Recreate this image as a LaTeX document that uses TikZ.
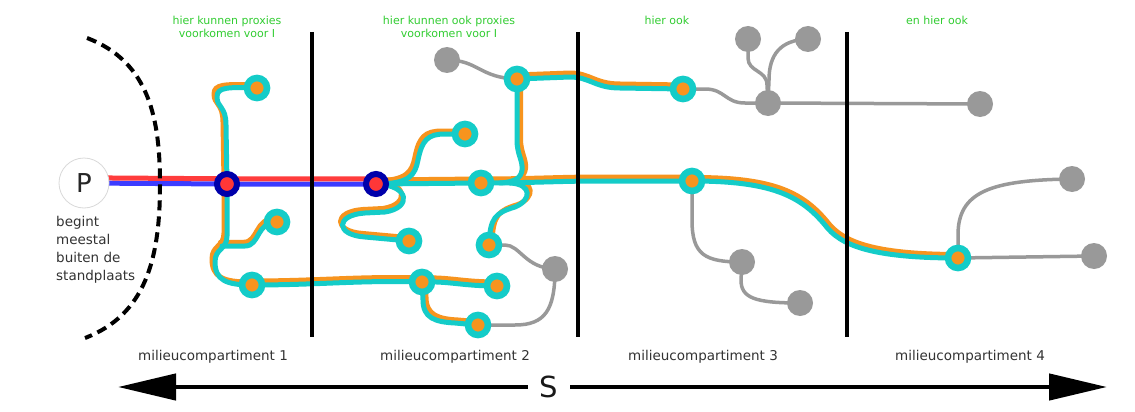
\documentclass[tikz,border=0pt]{standalone}
\usepackage{fontspec}
\setmainfont{DejaVu Sans}
\usetikzlibrary{arrows.meta}
\pgfdeclarelayer{paper}
\pgfdeclarelayer{background}
\pgfsetlayers{paper,background,main}

\definecolor{trailteal}{RGB}{20,204,200}
\definecolor{trailorange}{RGB}{247,148,30}
\definecolor{navyring}{RGB}{0,0,170}
\definecolor{corered}{RGB}{255,55,55}
\definecolor{redline}{RGB}{255,60,60}
\definecolor{blueline}{RGB}{60,60,255}
\definecolor{graynode}{RGB}{153,153,153}
\definecolor{notegreen}{RGB}{50,205,50}
\definecolor{labelgray}{RGB}{51,51,51}

\tikzset{
  proxy/.style={circle, draw=trailteal, line width=6.6pt, fill=trailorange, minimum size=20pt, inner sep=0pt},
  source/.style={circle, draw=navyring, line width=6pt, fill=corered, minimum size=20pt, inner sep=0pt},
  endpoint/.style={circle, fill=graynode, minimum size=26pt, inner sep=0pt},
  trailbase/.style={line width=5pt, line cap=round, line join=round},
  ortrail/.style 2 args={trailbase, draw=trailorange, transform canvas={shift={(#1,#2)}}},
  tetrail/.style 2 args={trailbase, draw=trailteal},
  grayline/.style={line width=3.5pt, draw=graynode, line cap=round},
  divider/.style={line width=3.5pt, black},
  note/.style={text=notegreen, font=\fontsize{11}{13}\selectfont, align=center, anchor=north, inner sep=0pt},
  complabel/.style={text=labelgray, font=\fontsize{13.5}{18}\selectfont, anchor=base, inner sep=0pt},
  bigarrow/.style={line width=4.5pt, -{Triangle[length=58pt,width=26pt]}},
}

% all proxy trails; #1 selects the orange underlay or the teal top line
\newcommand\drawtrails[1]{%
  % compartment 1
  \draw[#1={-3}{-3}] (N1.center) -- (226,125) .. controls (226,106) and (217,108) .. (217,97)
        .. controls (217,87) and (228,87) .. (A1.center);
  \draw[#1={-3}{-3}] (N1.center) -- (227,236) .. controls (227,250) and (215,248) .. (215,262)
        .. controls (215,280) and (226,285) .. (A3.center);
  \draw[#1={-1.5}{-3.7}] (j1) -- (245,246) .. controls (260,246) and (256,222) .. (A2.center);
  \draw[#1={0}{-4}] (A3.center) .. controls (320,285) and (360,280) .. (B5.center);
  % compartment 2
  \draw[#1={0}{-4}] (B5.center) .. controls (450,281) and (462,286) .. (B6.center);
  \draw[#1={3}{-3}] (B5.center) -- (423,300) .. controls (423,318) and (435,322) .. (455,323) -- (B7.center);
  \draw[#1={0}{-4}] (N2.center) -- (B2.center);
  \draw[#1={0}{-4}] (B2.center) .. controls (530,183) and (560,181) .. (600,181) -- (C2.center);
  \draw[#1={2}{-3.5}] (C2.center) .. controls (770,181) and (800,195) .. (825,225)
        .. controls (840,245) and (870,258) .. (D1.center);
  \draw[#1={-3}{-3}] (N2.center) .. controls (410,184) and (415,175) .. (418,160)
        .. controls (422,140) and (428,134) .. (445,134) -- (B1.center);
  \draw[#1={-2}{-3.5}] (N2.center) .. controls (410,185) and (412,208) .. (385,212) -- (365,213)
        .. controls (335,215) and (335,235) .. (365,237) -- (B3.center);
  \draw[#1={3.5}{-1.5}] (B8.center) -- (517,140) .. controls (517,155) and (523,160) .. (522,170)
        .. controls (521,178) and (515,182) .. (j3);
  \draw[#1={3}{-2.5}] (j2) .. controls (532,184) and (532,200) .. (515,207)
        .. controls (495,213) and (490,218) .. (B4.center);
  \draw[#1={0}{-4}] (B8.center) -- (570,77) .. controls (590,77) and (595,88) .. (620,88) -- (C1.center);
}

\begin{document}
\begin{tikzpicture}[x=1pt,y=-1pt]
  \useasboundingbox (0,0) rectangle (1135,412);
  \begin{pgfonlayer}{paper}
    \fill[white] (0,0) rectangle (1135,412);
  \end{pgfonlayer}

  % source point
  \node[circle, draw=black!15, line width=0.8pt, fill=white, minimum size=50pt, inner sep=0pt,
        font=\fontsize{26}{26}\selectfont, text=black!85] (P) at (84,183) {P};
  \node[text=labelgray, font=\fontsize{13.5}{18}\selectfont, align=left, anchor=north west, inner sep=0pt]
        (Pnote) at (56,216) {begint\\meestal\\buiten de\\standplaats};

  % nodes where the source signal is present
  \node[source] (N1) at (227,184) {};
  \node[source] (N2) at (376,184) {};

  % proxy nodes
  \node[proxy] (A1) at (257,88) {};
  \node[proxy] (A2) at (277,222) {};
  \node[proxy] (A3) at (252,285) {};
  \node[proxy] (B1) at (465,134) {};
  \node[proxy] (B2) at (481,183) {};
  \node[proxy] (B3) at (409,241) {};
  \node[proxy] (B4) at (489,245) {};
  \node[proxy] (B5) at (422,282) {};
  \node[proxy] (B6) at (497,286) {};
  \node[proxy] (B7) at (478,325) {};
  \node[proxy] (B8) at (517,79) {};
  \node[proxy] (C1) at (683,89) {};
  \node[proxy] (C2) at (692,181) {};
  \node[proxy] (D1) at (958,258) {};

  % branch points on the trails
  \coordinate (j1) at (222,246);
  \coordinate (j2) at (510,183);
  \coordinate (j3) at (500,183);

  % end points without proxy
  \node[endpoint] (G1) at (447,60) {};
  \node[endpoint] (G2) at (555,269) {};
  \node[endpoint] (G3) at (748,39) {};
  \node[endpoint] (G4) at (808,39) {};
  \node[endpoint] (G5) at (768,103) {};
  \node[endpoint] (G6) at (980,104) {};
  \node[endpoint] (G7) at (742,262) {};
  \node[endpoint] (G8) at (800,303) {};
  \node[endpoint] (G9) at (1072,179) {};
  \node[endpoint] (G10) at (1094,256) {};

  \begin{pgfonlayer}{background}
    % grey connections
    \draw[grayline] (G1.center) .. controls (478,60) and (480,78) .. (B8.center);
    \draw[grayline] (C1.center) -- (705,89) .. controls (725,89) and (725,103) .. (745,103) -- (G5.center);
    \draw[grayline] (G5.center) -- (G6.center);
    \draw[grayline] (G3.center) -- (748,58) .. controls (748,72) and (767,70) .. (767,85) -- (G5.center);
    \draw[grayline] (G4.center) .. controls (780,40) and (769,55) .. (769,80) -- (G5.center);
    \draw[grayline] (C2.center) -- (692,220) .. controls (692,255) and (705,262) .. (G7.center);
    \draw[grayline] (G7.center) -- (741,280) .. controls (741,298) and (755,303) .. (G8.center);
    \draw[grayline] (D1.center) -- (958,235) .. controls (958,192) and (990,180) .. (G9.center);
    \draw[grayline] (D1.center) -- (G10.center);
    \draw[grayline] (B4.center) -- (505,245) .. controls (520,245) and (525,268) .. (G2.center);
    \draw[grayline] (B7.center) -- (515,325) .. controls (545,325) and (555,310) .. (G2.center);
    % proxy trails: orange underlay, then teal
    \drawtrails{ortrail}
    \drawtrails{tetrail}
    % source signal: red above blue
    \draw[blueline, line width=5pt] (P.center) -- (N1.center) -- (N2.center);
    \draw[redline, line width=5pt, transform canvas={shift={(0,-5.2)}}] (P.center) -- (N1.center) -- (N2.center);
  \end{pgfonlayer}

  % compartment borders
  \draw[divider] (312,32) -- (312,337);
  \draw[divider] (578,32) -- (578,337);
  \draw[divider] (847,32) -- (847,337);

  % boundary of the site
  \draw[line width=4pt, dash pattern=on 10pt off 6pt] (87,38) .. controls (150,62) and (160,120) .. (160,185)
        .. controls (160,260) and (145,315) .. (85,338);

  % notes
  \node[note] (n1) at (227,16) {hier kunnen proxies\\voorkomen voor I};
  \node[note] (n2) at (449,16) {hier kunnen ook proxies\\voorkomen voor I};
  \node[note] (n3) at (667,16) {hier ook};
  \node[note] (n4) at (937,16) {en hier ook};

  % compartment labels
  \node[complabel] (L1) at (213,360) {milieucompartiment 1};
  \node[complabel] (L2) at (455,360) {milieucompartiment 2};
  \node[complabel] (L3) at (703,360) {milieucompartiment 3};
  \node[complabel] (L4) at (970,360) {milieucompartiment 4};

  % distance axis
  \node[font=\fontsize{29}{29}\selectfont, text=black!90, minimum width=42pt, inner sep=0pt] (S) at (549,387) {S};
  \coordinate (Sleft) at (118,387);
  \coordinate (Sright) at (1107,387);
  \draw[bigarrow] (S.west) -- (Sleft);
  \draw[bigarrow] (S.east) -- (Sright);
\end{tikzpicture}
\end{document}
